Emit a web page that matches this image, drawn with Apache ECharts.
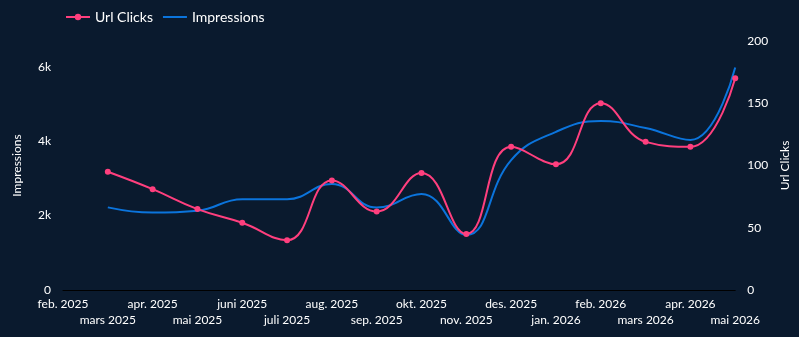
<!DOCTYPE html>
<html>
<head>
<meta charset="utf-8">
<script src="https://cdn.jsdelivr.net/npm/echarts@6/dist/echarts.min.js"></script>
<style>
  html, body { margin: 0; padding: 0; background: #0a1a2e; }
  #main { width: 799px; height: 337px; }
</style>
</head>
<body>
<div id="main"></div>
<script>
// months shown on the x axis (first one has no data)
const months = ['feb. 2025', 'mars 2025', 'apr. 2025', 'mai 2025', 'juni 2025', 'juli 2025',
  'aug. 2025', 'sep. 2025', 'okt. 2025', 'nov. 2025', 'des. 2025', 'jan. 2026',
  'feb. 2026', 'mars 2026', 'apr. 2026', 'mai 2026'];
const urlClicks = [null, 95, 81, 65, 54, 40, 88, 63, 94, 45, 115, 101, 150, 119, 115, 170];
const impressions = [null, 2220, 2080, 2130, 2440, 2440, 2850, 2215, 2580, 1480, 3490, 4250, 4540, 4350, 4030, 5980];

const textColor = '#ffffff';
const fontFamily = 'Lato, "Open Sans", sans-serif';

var chart = echarts.init(document.getElementById('main'));
var option = {
    backgroundColor: '#0a1a2e',
    textStyle: { fontFamily: fontFamily },
    legend: {
        left: 60,
        top: 5,
        itemWidth: 24,
        itemHeight: 8,
        itemGap: 9,
        textStyle: { color: textColor, fontSize: 14, fontFamily: fontFamily },
        data: ['Url Clicks', { name: 'Impressions', itemStyle: { opacity: 0 } }]
    },
    grid: { left: 63, right: 59, top: 41, bottom: 47 },
    xAxis: {
        type: 'category',
        boundaryGap: false,
        data: months,
        axisLine: { lineStyle: { color: '#000000', width: 1 } },
        axisTick: { show: false },
        axisLabel: {
            interval: 0,
            color: textColor,
            fontSize: 12,
            margin: 6,
            lineHeight: 16,
            formatter: function (v, i) { return i % 2 === 1 ? '\n' + v : v; }
        },
        splitLine: { show: false }
    },
    yAxis: [
        {
            type: 'value',
            name: 'Impressions',
            nameLocation: 'middle',
            nameRotate: 90,
            nameGap: 40,
            nameTextStyle: { color: textColor, fontSize: 12 },
            min: 0,
            max: 6690,
            interval: 2000,
            axisLine: { show: false },
            axisTick: { show: false },
            splitLine: { show: false },
            axisLabel: {
                color: textColor,
                fontSize: 12,
                margin: 12,
                showMaxLabel: false,
                formatter: function (v) { return v === 0 ? '0' : (v / 1000) + 'k'; }
            }
        },
        {
            type: 'value',
            name: 'Url Clicks',
            nameLocation: 'middle',
            nameRotate: 90,
            nameGap: 40,
            nameTextStyle: { color: textColor, fontSize: 12 },
            min: 0,
            max: 200,
            interval: 50,
            axisLine: { show: false },
            axisTick: { show: false },
            splitLine: { show: false },
            axisLabel: { color: textColor, fontSize: 12, margin: 12 }
        }
    ],
    series: [
        {
            name: 'Url Clicks',
            type: 'line',
            yAxisIndex: 1,
            data: urlClicks,
            smooth: 0.45,
            symbol: 'circle',
            symbolSize: 6,
            itemStyle: { color: '#ff3f7e' },
            lineStyle: { color: '#ff3f7e', width: 2 },
            z: 3
        },
        {
            name: 'Impressions',
            type: 'line',
            yAxisIndex: 0,
            data: impressions,
            smooth: 0.45,
            symbol: 'none',
            itemStyle: { color: '#0b74dc' },
            lineStyle: { color: '#0b74dc', width: 2 },
            z: 2
        }
    ]
};
chart.setOption(option);
</script>
</body>
</html>
